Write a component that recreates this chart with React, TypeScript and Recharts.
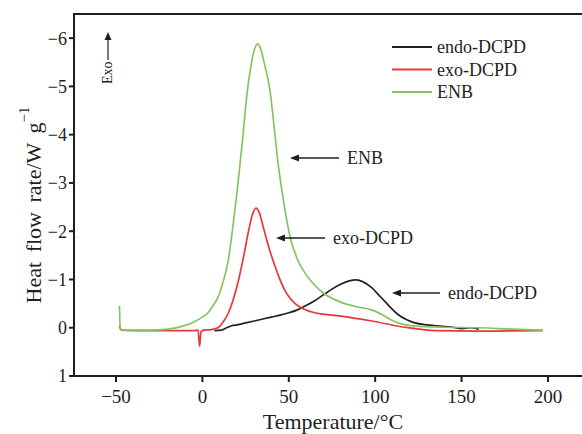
import React from 'react'
import { LineChart, Line, XAxis, YAxis, Legend } from 'recharts'

// DSC curves: temperature (°C) and heat flow rate (W/g, exo negative)
const endoTemp = [7, 11, 14, 17, 20, 25, 30, 35, 40, 45, 50, 55, 60, 65, 70, 75, 80, 85, 89, 93, 98, 102, 106, 110, 113, 118, 123, 130, 136, 145, 150, 155, 160]
const endoFlow = [0.06, 0.05, 0.0, -0.04, -0.06, -0.1, -0.14, -0.18, -0.22, -0.26, -0.31, -0.37, -0.46, -0.56, -0.68, -0.8, -0.9, -0.97, -0.99, -0.95, -0.83, -0.68, -0.53, -0.38, -0.28, -0.17, -0.1, -0.06, -0.04, -0.01, 0.02, 0.0, 0.03]

const exoTemp = [-48, -47, -40, -20, -5, -2.5, -1.6, -0.8, 1, 5, 9, 12, 15, 18, 21, 24, 27, 29, 31, 33, 35, 37, 39, 41.6, 44, 47.8, 51, 54, 58, 65, 78, 98, 117, 135, 160, 197]
const exoFlow = [-0.04, 0.05, 0.06, 0.06, 0.06, 0.05, 0.38, 0.08, 0.05, 0.04, 0.0, -0.12, -0.3, -0.6, -1.0, -1.5, -2.05, -2.35, -2.48, -2.38, -2.12, -1.85, -1.6, -1.32, -1.08, -0.77, -0.6, -0.49, -0.4, -0.31, -0.25, -0.14, -0.01, 0.06, 0.07, 0.06]

const enbTemp = [-48, -47.5, -46, -40, -30, -20, -10, -5, 0, 3, 6, 9, 12, 15, 18, 20, 23, 26, 28, 30, 32, 34, 36, 39, 42, 44, 46, 48, 51, 55, 60, 65, 70, 80, 90, 98, 105, 110, 115, 122, 140, 160, 180, 197]
const enbFlow = [-0.45, 0.02, 0.05, 0.05, 0.05, 0.03, -0.05, -0.12, -0.22, -0.3, -0.45, -0.63, -0.95, -1.4, -2.2, -2.8, -3.8, -4.9, -5.4, -5.75, -5.88, -5.75, -5.45, -4.95, -4.0, -3.35, -2.85, -2.4, -1.85, -1.42, -1.1, -0.88, -0.72, -0.53, -0.43, -0.37, -0.25, -0.15, -0.08, -0.04, -0.01, 0.0, 0.03, 0.05]

const xTicks = [-50, 0, 50, 100, 150, 200]
const yTicks = [-6, -5, -4, -3, -2, -1, 0, 1]

const toRows = (temps: number[], flows: number[]) => temps.map((t, i) => ({ t, v: flows[i] }))

const SERIF = '"Liberation Serif", "DejaVu Serif", serif'
const INK = '#1e1e1e'

const series = [
  { name: 'endo-DCPD', color: '#222222', data: toRows(endoTemp, endoFlow) },
  { name: 'exo-DCPD', color: '#e5393d', data: toRows(exoTemp, exoFlow) },
  { name: 'ENB', color: '#86c463', data: toRows(enbTemp, enbFlow) },
]

const fmt = (v: number) => (v < 0 ? '\u2212' + Math.abs(v) : String(v))

const renderLegend = () => (
  <svg width={180} height={70}>
    {series.map((s, i) => (
      <g key={s.name}>
        <line x1={2} x2={42} y1={11 + i * 22.5} y2={11 + i * 22.5} stroke={s.color} strokeWidth={2} />
        <text x={47} y={17 + i * 22.5} fontFamily={SERIF} fontSize={18} fill={INK}>{s.name}</text>
      </g>
    ))}
  </svg>
)

const Arrow = ({ x1, x2, y, label }: { x1: number, x2: number, y: number, label: string }) => (
  <g>
    <line x1={x1 + 6} x2={x2} y1={y} y2={y} stroke={INK} strokeWidth={1.3} />
    <path d={`M${x1},${y} L${x1 + 9},${y - 3.5} L${x1 + 9},${y + 3.5} Z`} fill={INK} />
    <text x={x2 + 8} y={y + 6} fontFamily={SERIF} fontSize={18} fill={INK}>{label}</text>
  </g>
)

export default function App() {
  return (
    <div style={{ position: 'absolute', left: 0, top: 0, width: 582, height: 434, background: '#fff' }}>
      <LineChart width={582} height={434} margin={{ top: 14, right: 0, bottom: 0, left: 0 }}>
        <XAxis
          type="number"
          dataKey="t"
          domain={[-74.3, 219.7]}
          ticks={xTicks}
          allowDuplicatedCategory={false}
          height={58}
          axisLine={{ stroke: INK, strokeWidth: 2 }}
          tickLine={{ stroke: INK, strokeWidth: 2 }}
          tickSize={6}
          tickMargin={8}
          tickFormatter={fmt}
          tick={{ fill: INK, fontSize: 19, fontFamily: SERIF }}
        />
        <YAxis
          type="number"
          dataKey="v"
          reversed
          domain={[-6.5, 1]}
          ticks={yTicks}
          width={74}
          axisLine={{ stroke: INK, strokeWidth: 2 }}
          tickLine={{ stroke: INK, strokeWidth: 2 }}
          tickSize={5}
          tickMargin={2}
          tickFormatter={fmt}
          tick={{ fill: INK, fontSize: 18, fontFamily: SERIF }}
        />
        <Legend
          layout="horizontal"
          verticalAlign="middle"
          align="center"
          wrapperStyle={{ position: 'absolute', left: 390, top: 36, width: 180, height: 70, right: 'auto', bottom: 'auto' }}
          content={renderLegend}
        />
        {series.map(s => (
          <Line
            key={s.name}
            name={s.name}
            data={s.data}
            dataKey="v"
            type="monotone"
            stroke={s.color}
            strokeWidth={1.7}
            dot={false}
            activeDot={false}
            isAnimationActive={false}
          />
        ))}
      </LineChart>
      <svg width={582} height={434} style={{ position: 'absolute', left: 0, top: 0, pointerEvents: 'none' }}>
        <line x1={73} x2={582} y1={14} y2={14} stroke={INK} strokeWidth={2} />
        <text
          transform="translate(41,205) rotate(-90)"
          textAnchor="middle"
          fontFamily={SERIF}
          fontSize={22}
          fill={INK}
          wordSpacing={4}
        >
          Heat flow rate/W g
          <tspan dy={-12} fontSize={15}>{'\u22121'}</tspan>
        </text>
        <text x={333} y={429} textAnchor="middle" fontFamily={SERIF} fontSize={22} fill={INK}>Temperature/°C</text>
        <text transform="translate(112,84) rotate(-90)" fontFamily={SERIF} fontSize={14} fill={INK}>Exo</text>
        <line x1={108} x2={108} y1={60} y2={37} stroke={INK} strokeWidth={1.2} />
        <path d="M108,32 L104.5,40 L111.5,40 Z" fill={INK} />
        <Arrow x1={290} x2={339} y={158} label="ENB" />
        <Arrow x1={276} x2={325} y={238} label="exo-DCPD" />
        <Arrow x1={392} x2={440} y={293} label="endo-DCPD" />
      </svg>
    </div>
  )
}
